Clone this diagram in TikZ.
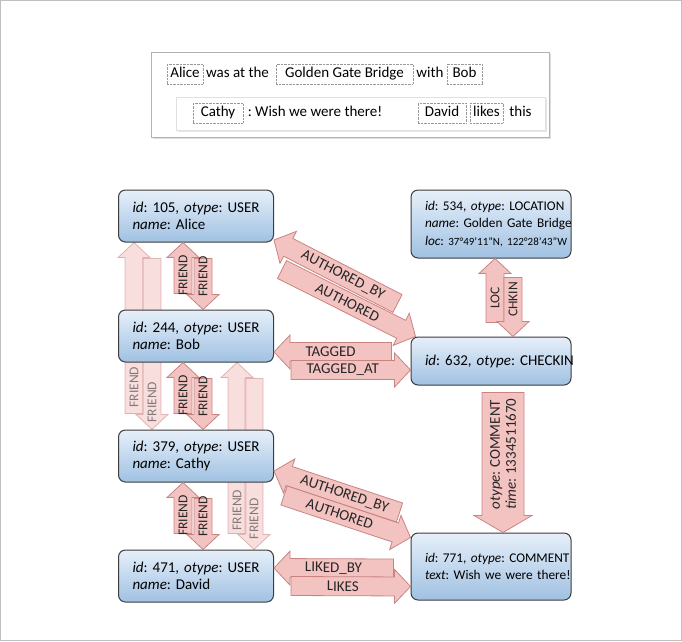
\documentclass[tikz,border=0pt]{standalone}
\usepackage{fontspec}
\setmainfont{Carlito}
\usetikzlibrary{calc,shadows,backgrounds}

\definecolor{nodetop}{HTML}{E6EFF9}
\definecolor{nodebot}{HTML}{A0C1E2}
\definecolor{nodeline}{HTML}{3C3C3C}
\definecolor{arrowfill}{HTML}{F3C3C1}
\definecolor{arrowline}{HTML}{C98482}

\tikzset{
  fa shaft/.store in=\fashaft, fa shaft=9.5pt,
  fa head/.store in=\fahead, fa head=17pt,
  fa tip/.store in=\fatip, fa tip=16pt,
  fa pos/.store in=\fapos, fa pos=0.5,
  fa label/.style={},
  fatbody/.style={fill=arrowfill, draw=arrowline, line width=0.8pt},
  fattext/.style={font=\fontsize{15}{16}\selectfont, text=black!85, inner sep=0pt},
  friend/.style={fa shaft=9pt, fa head=16pt, fa tip=15pt,
    fa label/.style={font=\fontsize{13.5}{15}\selectfont}},
  downward/.style={fa label/.append style={rotate=180}},
  faded/.style={opacity=0.55},
  obj/.style={draw=nodeline, line width=1pt, rounded corners=7pt,
    top color=nodetop, bottom color=nodebot, align=left, inner xsep=14pt},
  user/.style={obj, minimum width=155pt, text width=127pt, minimum height=52pt,
    font=\fontsize{15}{17.5}\selectfont},
  wide/.style={obj, minimum width=160pt, text width=132pt,
    font=\fontsize{13.3}{17.5}\selectfont},
  panel/.style={draw=black!30, fill=white,
    drop shadow={opacity=0.25, shadow xshift=1.5pt, shadow yshift=-1.5pt}},
  panelrow/.style={draw=black!12, fill=white,
    drop shadow={opacity=0.2, shadow xshift=1.5pt, shadow yshift=-1.5pt}},
  word/.style={font=\fontsize{15}{17}\selectfont, text height=11pt, text depth=3.5pt,
    inner ysep=2.5pt, inner xsep=1pt},
  wordbox/.style={word, draw=black!40, densely dotted, line width=0.4pt},
}

\newcommand\fatarrow[4][]{%
  \begin{scope}[#1]
    \coordinate (fa-a) at (#2);
    \coordinate (fa-b) at (#3);
    \coordinate (fa-neck) at ($(fa-b)!\fatip!(fa-a)$);
    \filldraw[fatbody] ($(fa-a)!\fashaft!90:(fa-b)$) -- ($(fa-neck)!\fashaft!90:(fa-b)$)
      -- ($(fa-neck)!\fahead!90:(fa-b)$) -- (fa-b)
      -- ($(fa-neck)!\fahead!-90:(fa-b)$) -- ($(fa-neck)!\fashaft!-90:(fa-b)$)
      -- ($(fa-a)!\fashaft!-90:(fa-b)$) -- cycle;
    \path (fa-a) -- (fa-neck) node[pos=\fapos, sloped, fattext, fa label] {#4};
  \end{scope}}

\begin{document}
\frenchspacing
\begin{tikzpicture}[x=1pt, y=-1pt]
  \useasboundingbox (0,0) rectangle (682,641);
  \draw[black!25] (0.5,0.5) rectangle (681.5,640.5);

  % the post
  \node[panel, minimum width=398pt, minimum height=85pt] (panel) at (350,94.5) {};
  \node[panelrow, minimum width=369pt, minimum height=33pt] (row) at (360.5,113.5) {};
  \node[wordbox, minimum width=36pt] (w-alice) at (185,74) {Alice};
  \node[word] (w-was) at (237.5,74) {was at the};
  \node[wordbox, minimum width=137pt] (w-ggb) at (344.5,74) {Golden Gate Bridge};
  \node[word] (w-with) at (430,74) {with};
  \node[wordbox, minimum width=35pt] (w-bob) at (464.5,74) {Bob};
  \node[wordbox, minimum width=50pt] (w-cathy) at (218,113) {Cathy};
  \node[word] (w-wish) at (315,113) {: Wish we were there!};
  \node[wordbox, minimum width=48pt] (w-david) at (442,113) {David};
  \node[wordbox, minimum width=33pt] (w-likes) at (486.5,113) {likes};
  \node[word] (w-this) at (520.5,113) {this};

  % objects
  \node[user] (alice) at (196,216) {\mbox{\textit{id}: 105, \textit{otype}: USER}\\\textit{name}: Alice};
  \node[user] (bob) at (196,336) {\mbox{\textit{id}: 244, \textit{otype}: USER}\\\textit{name}: Bob};
  \node[user] (cathy) at (196,456) {\mbox{\textit{id}: 379, \textit{otype}: USER}\\\textit{name}: Cathy};
  \node[user] (david) at (196,576) {\mbox{\textit{id}: 471, \textit{otype}: USER}\\\textit{name}: David};
  \node[wide, minimum height=68pt] (loc) at (491,224)
    {\mbox{\textit{id}: 534, \textit{otype}: LOCATION}\\\mbox{\textit{name}: Golden Gate Bridge}\\
     \mbox{\textit{loc}: {\fontsize{11}{13}\selectfont 37°49'11"N, 122°28'43"W}}};
  \node[wide, minimum height=48pt, font=\fontsize{15}{17.5}\selectfont] (checkin) at (491,361)
    {\mbox{\textit{id}: 632, \textit{otype}: CHECKIN}};
  \node[wide, minimum height=67pt] (comment) at (491,566.5)
    {\mbox{\textit{id}: 771, \textit{otype}: COMMENT}\\\mbox{\textit{text}: Wish we were there!}};

  % friendships that pass behind bob and cathy
  \begin{scope}[on background layer]
    \fatarrow[friend, faded, fa pos=0.17]{$(cathy.north)+(-62,-16)$}{$(alice.south)+(-62,0)$}{FRIEND}
    \fatarrow[friend, faded, downward, fa pos=0.92]{$(alice.south)+(-44,16)$}{$(cathy.north)+(-44,0)$}{FRIEND}
    \fatarrow[friend, faded, fa pos=0.15]{$(david.north)+(41,-16)$}{$(bob.south)+(41,0)$}{FRIEND}
    \fatarrow[friend, faded, downward, fa pos=0.9]{$(bob.south)+(58,16)$}{$(david.north)+(58,0)$}{FRIEND}
  \end{scope}

  % friendships between neighbours
  \foreach \a/\b in {alice/bob, bob/cathy, cathy/david}{
    \fatarrow[friend]{$(\b.north)+(-13,-16)$}{$(\a.south)+(-13,0)$}{FRIEND}
    \fatarrow[friend, downward]{$(\a.south)+(7,16)$}{$(\b.north)+(7,0)$}{FRIEND}
  }

  % checkin edges
  \fatarrow[friend]{$(checkin.north)+(4,-14)$}{$(loc.south)+(4,0)$}{LOC}
  \fatarrow[friend, downward]{$(loc.south)+(22,19)$}{$(checkin.north)+(22,0)$}{CHKIN}
  \fatarrow[fa pos=0.6]{$(checkin.west)+(-19,-9)$}{$(bob.east)+(0,16)$}{TAGGED}
  \fatarrow{$(bob.east)+(17,34)$}{$(checkin.west)+(0,9)$}{TAGGED\_AT}
  \fatarrow[fa shaft=10pt, fa head=18pt]{$(checkin.north west)+(-13,-33)$}{$(alice.east)+(0,24)$}{AUTHORED\_BY}
  \fatarrow[fa shaft=10pt, fa head=18pt, fa pos=0.55]{$(alice.south east)+(8,27)$}{$(checkin.north west)+(5,0)$}{AUTHORED}
  \fatarrow[fa shaft=21pt, fa head=29pt, fa tip=17pt, downward, fa label/.append style={align=left, font=\fontsize{15}{16}\selectfont}]
    {$(checkin.south)+(12,7)$}{$(comment.north)+(12,0)$}{\textit{otype}: COMMENT\\\textit{time}: 1334511670}

  % comment edges
  \fatarrow[fa shaft=10pt, fa head=18pt]{$(comment.north west)+(-11,-20)$}{$(cathy.east)+(0,15)$}{AUTHORED\_BY}
  \fatarrow[fa shaft=10pt, fa head=18pt]{$(cathy.south east)+(10,13)$}{$(comment.north west)+(0,5)$}{AUTHORED}
  \fatarrow[fa pos=0.58]{$(comment.west)+(-17,2)$}{$(david.east)+(0,-8)$}{LIKED\_BY}
  \fatarrow{$(david.east)+(17,10)$}{$(comment.west)+(0,20)$}{LIKES}
\end{tikzpicture}
\end{document}
